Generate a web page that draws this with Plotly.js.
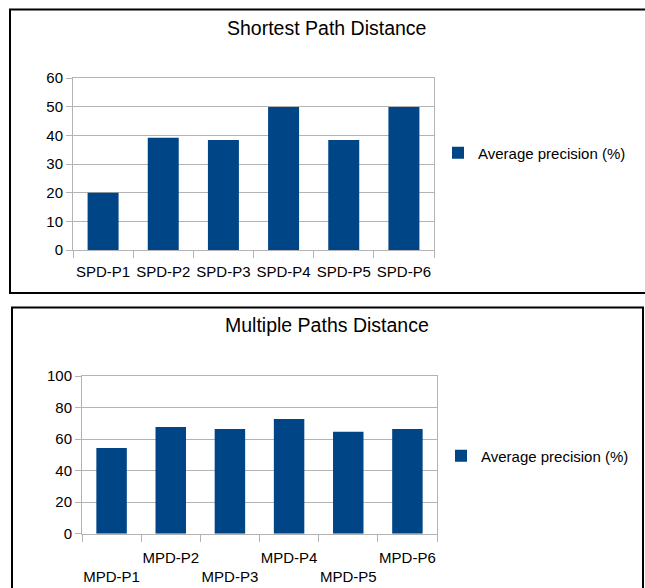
<!DOCTYPE html>
<html>
<head>
<meta charset="utf-8">
<script src="https://cdn.plot.ly/plotly-3.0.1.min.js"></script>
<style>html,body{margin:0;padding:0;background:#fff;}#chart{width:645px;height:588px;}</style>
</head>
<body>
<div id="chart"></div>
<script>
// ---- data ----
const spdCategories = ["SPD-P1", "SPD-P2", "SPD-P3", "SPD-P4", "SPD-P5", "SPD-P6"];
const spdValues = [20.0, 39.2, 38.4, 49.9, 38.4, 49.9];
const mpdCategories = ["MPD-P1", "MPD-P2", "MPD-P3", "MPD-P4", "MPD-P5", "MPD-P6"];
const mpdValues = [54.3, 67.7, 66.4, 72.7, 64.7, 66.4];
const seriesName = "Average precision (%)";
const titleTop = "Shortest Path Distance";
const titleBottom = "Multiple Paths Distance";

// ---- layout helpers ----
const W = 645, H = 588;
const px = x => x / W;
const py = y => 1 - y / H;
const FONT = "Liberation Sans, Arial, sans-serif";
const BAR = "#004586";
const GRID = "#b3b3b3";

// staggered labels for bottom chart
const mpdTickText = mpdCategories.map((c, i) => (i % 2 === 0 ? "<br>" + c : c));

const traces = [
  {type: "bar", x: spdCategories, y: spdValues, name: seriesName, marker: {color: BAR},
   xaxis: "x", yaxis: "y", legend: "legend", hoverinfo: "x+y"},
  {type: "bar", x: mpdCategories, y: mpdValues, name: seriesName, marker: {color: BAR},
   xaxis: "x2", yaxis: "y2", legend: "legend2", hoverinfo: "x+y"}
];

const xCommon = {
  type: "category", showgrid: false, showline: true, linecolor: GRID, linewidth: 1, mirror: true,
  ticks: "outside", tickson: "boundaries", ticklen: 7, tickcolor: GRID, tickwidth: 1, tickangle: 0,
  tickfont: {family: FONT, size: 15, color: "#000"}, zeroline: false, fixedrange: true
};
const yCommon = {
  showgrid: true, gridcolor: GRID, gridwidth: 1, showline: true, linecolor: GRID, linewidth: 1, mirror: true,
  ticks: "outside", ticklen: 6, tickcolor: GRID, tickwidth: 1,
  tickfont: {family: FONT, size: 15, color: "#000"}, zeroline: false, fixedrange: true
};

const layout = {
  width: W, height: H,
  margin: {l: 0, r: 0, t: 0, b: 0},
  paper_bgcolor: "#fff", plot_bgcolor: "#fff",
  bargap: 0.485,
  font: {family: FONT, size: 15, color: "#000"},
  xaxis: Object.assign({}, xCommon, {domain: [px(73), px(434)], anchor: "y", ticklabelstandoff: 8}),
  yaxis: Object.assign({}, yCommon, {domain: [py(250), py(78)], anchor: "x", range: [0, 60], dtick: 10}),
  xaxis2: Object.assign({}, xCommon, {domain: [px(82), px(437)], anchor: "y2", ticklabelstandoff: 10,
    tickmode: "array", tickvals: mpdCategories, ticktext: mpdTickText}),
  yaxis2: Object.assign({}, yCommon, {domain: [py(533.7), py(376)], anchor: "x2", range: [0, 100], dtick: 20}),
  showlegend: true,
  legend: {x: px(438), y: py(153), xanchor: "left", yanchor: "middle", bgcolor: "rgba(0,0,0,0)",
           font: {family: FONT, size: 15, color: "#000"}},
  legend2: {x: px(441), y: py(456), xanchor: "left", yanchor: "middle", bgcolor: "rgba(0,0,0,0)",
            font: {family: FONT, size: 15, color: "#000"}},
  annotations: [
    {text: titleTop, xref: "paper", yref: "paper", x: px(326), y: py(28), xanchor: "center", yanchor: "middle",
     showarrow: false, font: {family: FONT, size: 19.5, color: "#000"}},
    {text: titleBottom, xref: "paper", yref: "paper", x: px(327), y: py(325), xanchor: "center", yanchor: "middle",
     showarrow: false, font: {family: FONT, size: 19.5, color: "#000"}}
  ],
  shapes: [
    {type: "rect", xref: "paper", yref: "paper", x0: px(10), x1: px(650), y0: py(293), y1: py(9.5),
     line: {color: "#000", width: 2}, fillcolor: "rgba(0,0,0,0)", layer: "above"},
    {type: "rect", xref: "paper", yref: "paper", x0: px(12), x1: px(643), y0: py(595), y1: py(307.5),
     line: {color: "#000", width: 2}, fillcolor: "rgba(0,0,0,0)", layer: "above"}
  ]
};

Plotly.newPlot("chart", traces, layout, {displayModeBar: false, staticPlot: true});
</script>
</body>
</html>
